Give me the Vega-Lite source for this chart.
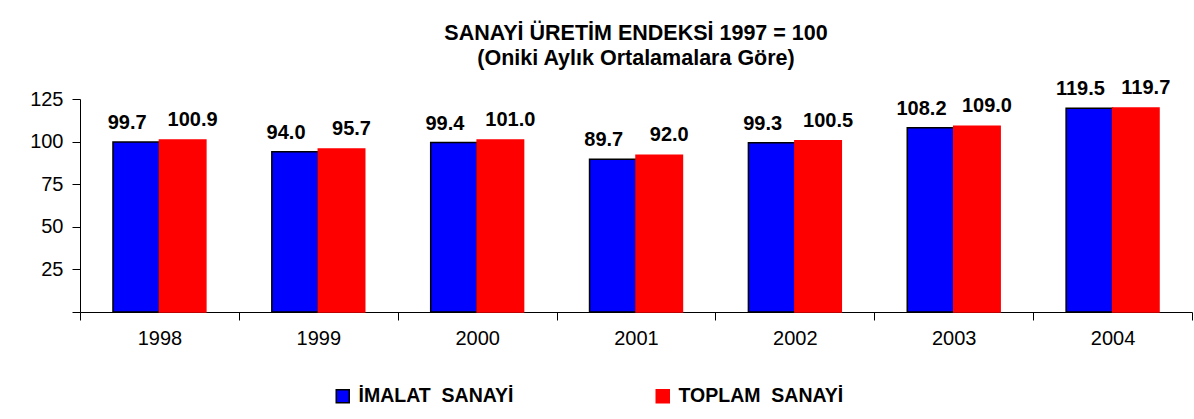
{
  "$schema": "https://vega.github.io/schema/vega-lite/v6.json",
  "width": 1112,
  "height": 213,
  "autosize": {"type": "none"},
  "padding": {"left": 80, "top": 99, "right": 2, "bottom": 107},
  "background": "white",
  "title": {
    "text": ["SANAYİ ÜRETİM ENDEKSİ 1997 = 100", "(Oniki Aylık Ortalamalara Göre)"],
    "font": "Liberation Sans",
    "fontSize": 21.5,
    "fontWeight": "bold",
    "lineHeight": 25,
    "anchor": "middle",
    "offset": 9,
    "color": "black"
  },
  "data": {
    "values": [
      {"year": "1998", "series": "İMALAT  SANAYİ", "value": 99.7},
      {"year": "1998", "series": "TOPLAM  SANAYİ", "value": 100.9},
      {"year": "1999", "series": "İMALAT  SANAYİ", "value": 94.0},
      {"year": "1999", "series": "TOPLAM  SANAYİ", "value": 95.7},
      {"year": "2000", "series": "İMALAT  SANAYİ", "value": 99.4},
      {"year": "2000", "series": "TOPLAM  SANAYİ", "value": 101.0},
      {"year": "2001", "series": "İMALAT  SANAYİ", "value": 89.7},
      {"year": "2001", "series": "TOPLAM  SANAYİ", "value": 92.0},
      {"year": "2002", "series": "İMALAT  SANAYİ", "value": 99.3},
      {"year": "2002", "series": "TOPLAM  SANAYİ", "value": 100.5},
      {"year": "2003", "series": "İMALAT  SANAYİ", "value": 108.2},
      {"year": "2003", "series": "TOPLAM  SANAYİ", "value": 109.0},
      {"year": "2004", "series": "İMALAT  SANAYİ", "value": 119.5},
      {"year": "2004", "series": "TOPLAM  SANAYİ", "value": 119.7}
    ]
  },
  "encoding": {
    "x": {
      "field": "year",
      "type": "nominal",
      "scale": {"paddingInner": 0, "paddingOuter": 0},
      "axis": {
        "title": null,
        "labelAngle": 0,
        "tickBand": "extent",
        "tickSize": 8,
        "labelPadding": 8,
        "labelFont": "Liberation Sans",
        "labelFontSize": 20,
        "labelColor": "black",
        "domainColor": "black",
        "tickColor": "black",
        "domainWidth": 1,
        "tickWidth": 1
      }
    },
    "xOffset": {
      "field": "series",
      "type": "nominal",
      "sort": ["İMALAT  SANAYİ", "TOPLAM  SANAYİ"],
      "scale": {"paddingOuter": 0.71, "paddingInner": 0}
    },
    "y": {
      "field": "value",
      "type": "quantitative",
      "scale": {"domain": [0, 125], "nice": false},
      "axis": {
        "title": null,
        "values": [0, 25, 50, 75, 100, 125],
        "labelExpr": "datum.value == 0 ? '' : datum.label",
        "grid": false,
        "tickSize": 8,
        "labelPadding": 9,
        "labelFont": "Liberation Sans",
        "labelFontSize": 20,
        "labelColor": "black",
        "domainColor": "black",
        "tickColor": "black",
        "domainWidth": 1,
        "tickWidth": 1
      }
    }
  },
  "layer": [
    {
      "mark": {"type": "bar", "strokeWidth": 1.5},
      "encoding": {
        "fill": {
          "field": "series",
          "type": "nominal",
          "scale": {"domain": ["İMALAT  SANAYİ", "TOPLAM  SANAYİ"], "range": ["#0000FF", "#FF0000"]},
          "legend": {
            "orient": "none",
            "legendX": 253,
            "legendY": 287,
            "direction": "horizontal",
            "title": null,
            "padding": 0,
            "symbolType": "square",
            "symbolSize": 169,
            "symbolStrokeWidth": 1.5,
            "labelFont": "Liberation Sans",
            "labelFontSize": 19.5,
            "labelFontWeight": "bold",
            "labelColor": "black",
            "labelOffset": 6,
            "columnPadding": 139,
            "labelLimit": 400,
            "labelExpr": "replace(datum.label, '  ', '\u00a0 ')"
          }
        },
        "stroke": {
          "field": "series",
          "type": "nominal",
          "scale": {"domain": ["İMALAT  SANAYİ", "TOPLAM  SANAYİ"], "range": ["#000000", "#FF0000"]},
          "legend": {
            "orient": "none",
            "legendX": 253,
            "legendY": 287,
            "direction": "horizontal",
            "title": null,
            "padding": 0,
            "symbolType": "square",
            "symbolSize": 169,
            "symbolStrokeWidth": 1.5,
            "labelFont": "Liberation Sans",
            "labelFontSize": 19.5,
            "labelFontWeight": "bold",
            "labelColor": "black",
            "labelOffset": 6,
            "columnPadding": 139,
            "labelLimit": 400,
            "labelExpr": "replace(datum.label, '  ', '\u00a0 ')"
          }
        }
      }
    },
    {
      "transform": [{"filter": "datum.series == 'İMALAT  SANAYİ'"}],
      "mark": {"type": "text", "dx": -9, "dy": -13, "baseline": "alphabetic", "font": "Liberation Sans", "fontSize": 20, "fontWeight": "bold", "color": "black"},
      "encoding": {"text": {"field": "value", "type": "quantitative", "format": ".1f"}}
    },
    {
      "transform": [{"filter": "datum.series == 'TOPLAM  SANAYİ'"}],
      "mark": {"type": "text", "dx": 10, "dy": -14, "baseline": "alphabetic", "font": "Liberation Sans", "fontSize": 20, "fontWeight": "bold", "color": "black"},
      "encoding": {"text": {"field": "value", "type": "quantitative", "format": ".1f"}}
    }
  ],
  "config": {
    "view": {"stroke": null},
    "axis": {"grid": false}
  }
}
